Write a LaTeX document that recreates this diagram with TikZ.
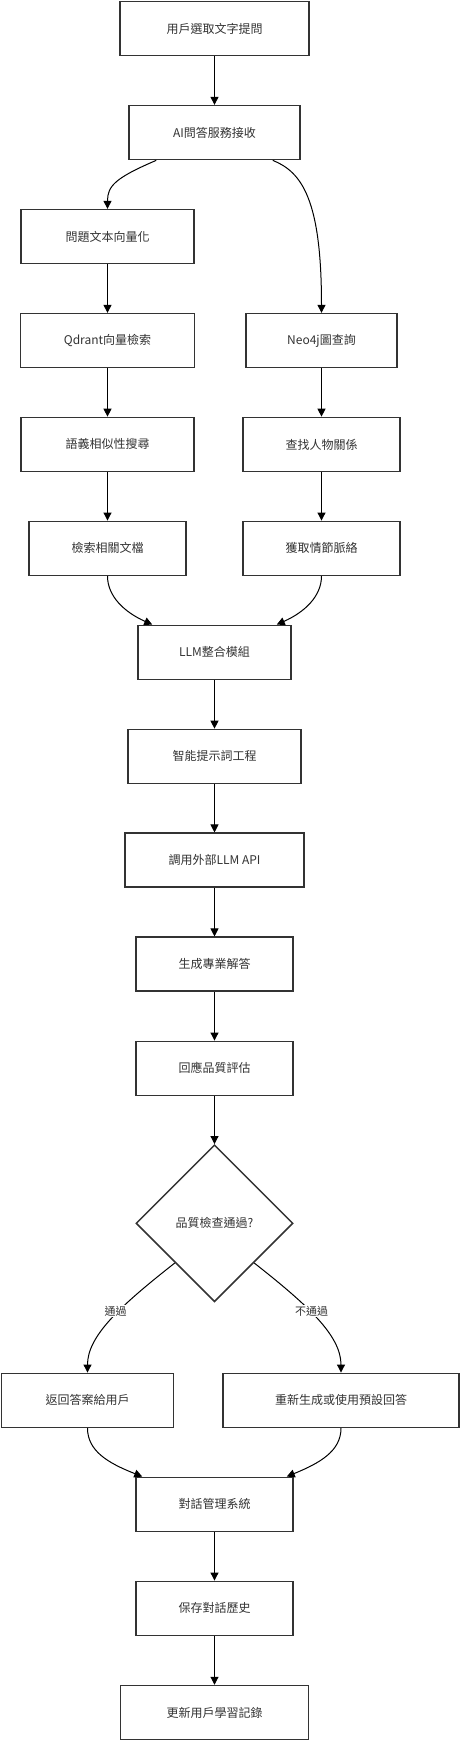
\documentclass[tikz,border=0pt]{standalone}
\usepackage{fontspec}
\setmainfont{Noto Sans CJK TC}
\usetikzlibrary{arrows.meta,shapes.geometric}
\definecolor{ink}{HTML}{333333}

\begin{document}
\begin{tikzpicture}[x=1pt,y=-1pt]
  \tikzstyle{box}=[rectangle,draw=ink,line width=1.5pt,fill=white,text=ink,
  minimum height=54pt,inner sep=0pt,font=\fontsize{12pt}{14pt}\selectfont]
  \tikzstyle{check}=[diamond,draw=ink,line width=1.5pt,fill=white,text=ink,
  minimum width=157pt,minimum height=157pt,inner sep=0pt,font=\fontsize{12pt}{14pt}\selectfont]
  \tikzstyle{flow}=[line width=1pt,-{Triangle[length=8pt,width=8pt]}]
  \tikzstyle{edgetext}=[fill=white,text=ink,inner sep=1pt,font=\fontsize{11pt}{13pt}\selectfont]
  \useasboundingbox (0,0) rectangle (460,1740);
  \node[box,minimum width=189pt](ask) at (214.5,28.5){用戶選取文字提問};
  \node[box,minimum width=171pt](recv) at (214.5,132.6){AI問答服務接收};
  \node[box,minimum width=173pt](vec) at (107.5,236.6){問題文本向量化};
  \node[box,minimum width=174pt](qd) at (107.5,340.6){Qdrant向量檢索};
  \node[box,minimum width=151pt](neo) at (321.5,340.6){Neo4j圖查詢};
  \node[box,minimum width=173pt](sem) at (107.5,444.4){語義相似性搜尋};
  \node[box,minimum width=157pt](rel) at (321.5,444.4){查找人物關係};
  \node[box,minimum width=157pt](doc) at (107.5,548.3){檢索相關文檔};
  \node[box,minimum width=157pt](plot) at (321.5,548.3){獲取情節脈絡};
  \node[box,minimum width=153pt](llm) at (214.5,652.3){LLM整合模組};
  \node[box,minimum width=173pt](prompt) at (214.5,756.4){智能提示詞工程};
  \node[box,minimum width=179pt](api) at (214.5,860.2){調用外部LLM API};
  \node[box,minimum width=157pt](gen) at (214.5,964.2){生成專業解答};
  \node[box,minimum width=157pt](eval) at (214.5,1068.3){回應品質評估};
  \node[check](chk) at (214.5,1223.3){品質檢查通過?};
  \node[box,minimum width=172pt](ret) at (87.5,1400.3){返回答案給用戶};
  \node[box,minimum width=236pt](regen) at (341,1400.3){重新生成或使用預設回答};
  \node[box,minimum width=157pt](conv) at (214.5,1504.3){對話管理系統};
  \node[box,minimum width=157pt](save) at (214.5,1608.3){保存對話歷史};
  \node[box,minimum width=188pt](upd) at (214.5,1712.5){更新用戶學習記錄};
  % straight steps
  \path[draw,flow] (ask) -- (recv);
  \path[draw,flow] (vec) -- (qd);
  \path[draw,flow] (qd) -- (sem);
  \path[draw,flow] (sem) -- (doc);
  \path[draw,flow] (neo) -- (rel);
  \path[draw,flow] (rel) -- (plot);
  \path[draw,flow] (llm) -- (prompt);
  \path[draw,flow] (prompt) -- (api);
  \path[draw,flow] (api) -- (gen);
  \path[draw,flow] (gen) -- (eval);
  \path[draw,flow] (eval) -- (chk);
  \path[draw,flow] (conv) -- (save);
  \path[draw,flow] (save) -- (upd);
  % split and merge
  \path[draw,flow] ([xshift=28pt]recv.south west) .. controls (115,178) and (107.5,186) .. (vec.north);
  \path[draw,flow] ([xshift=-28pt]recv.south east) .. controls (302,172) and (321.5,200) .. (neo.north);
  \path[draw,flow] (doc.south) .. controls (107.5,596) and (124,612) .. ([xshift=15pt]llm.north west);
  \path[draw,flow] (plot.south) .. controls (321.5,596) and (305,612) .. ([xshift=-15pt]llm.north east);
  \path[draw,flow] (chk.south west) .. controls (120,1306) and (87.5,1336) .. (ret.north);
  \path[draw,flow] (chk.south east) .. controls (309,1306) and (341,1336) .. (regen.north);
  \node[edgetext](yes) at (115.7,1311){通過};
  \node[edgetext](no) at (311.7,1311){不通過};
  \path[draw,flow] (ret.south) .. controls (87.5,1451) and (108,1463) .. ([xshift=7pt]conv.north west);
  \path[draw,flow] (regen.south) .. controls (341,1451) and (320,1463) .. ([xshift=-7pt]conv.north east);
\end{tikzpicture}
\end{document}
